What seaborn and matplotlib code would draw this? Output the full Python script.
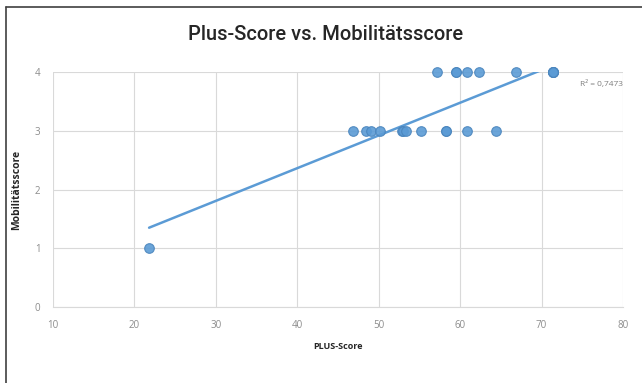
import numpy as np
import pandas as pd
import seaborn as sns
import matplotlib.pyplot as plt
from matplotlib.lines import Line2D

# PLUS-Score values grouped by mobility score
plus_mob1 = [21.8]
plus_mob3 = [46.9, 48.5, 49.0, 50.2, 52.8, 53.0, 53.4, 55.2, 58.3, 58.3, 60.9, 64.4]
plus_mob4 = [57.2, 59.5, 59.5, 60.9, 62.3, 66.9, 71.4, 71.4, 71.4, 71.4, 71.4]

x_ticks = [10, 20, 30, 40, 50, 60, 70, 80]
y_ticks = [0, 1, 2, 3, 4]
r2_label = "R² = 0,7473"

df = pd.DataFrame({
    "PLUS-Score": plus_mob1 + plus_mob3 + plus_mob4,
    "Mobilitätsscore": [1] * len(plus_mob1) + [3] * len(plus_mob3) + [4] * len(plus_mob4),
})

sns.set_style("white")
plt.rcParams["font.family"] = ["Open Sans", "DejaVu Sans"]

blue = "#5B9BD5"
fig = plt.figure(figsize=(6.42, 3.83), dpi=100)
ax = fig.add_axes([53 / 642, 1 - 307 / 383, (623 - 53) / 642, (307 - 72) / 383])

sns.regplot(
    data=df, x="PLUS-Score", y="Mobilitätsscore", ax=ax, ci=None, truncate=True,
    scatter_kws=dict(s=48, color=blue, edgecolors="#4A85BD", linewidths=0.8,
                     alpha=0.9, clip_on=False, zorder=3),
    line_kws=dict(color=blue, lw=1.8, zorder=2),
)

ax.set_xlim(10, 80)
ax.set_ylim(0, 4)
ax.set_xticks(x_ticks)
ax.set_yticks(y_ticks)
ax.grid(True, color="#D9D9D9", lw=0.8)
ax.set_axisbelow(True)
for side, sp in ax.spines.items():
    sp.set_visible(side == "bottom")
ax.spines["bottom"].set_color("#D9D9D9")
ax.tick_params(axis="both", length=0, labelsize=7, labelcolor="#8C8C8C")
ax.tick_params(axis="x", pad=9)
ax.tick_params(axis="y", pad=9)

ax.set_xlabel("PLUS-Score", fontsize=6.5, fontweight="bold", labelpad=8)
ax.set_ylabel("Mobilitätsscore", fontsize=7.5, fontweight="bold", labelpad=9)

fig.text(326 / 642, 1 - 35 / 383, "Plus-Score vs. Mobilitätsscore",
         ha="center", va="center", fontsize=14.5, fontweight="medium",
         family=["Roboto", "DejaVu Sans"])
fig.text(580 / 642, 1 - 84 / 383, r2_label, ha="left", va="center",
         fontsize=6, color="#7F7F7F")

# chart frame (left and top edges)
fig.add_artist(Line2D([6 / 642, 6 / 642], [0, 1 - 7 / 383], transform=fig.transFigure,
                      color="#404040", lw=1.2))
fig.add_artist(Line2D([6 / 642, 1], [1 - 7 / 383, 1 - 7 / 383], transform=fig.transFigure,
                      color="#404040", lw=1.2))

fig.savefig("out.png", dpi=100)
